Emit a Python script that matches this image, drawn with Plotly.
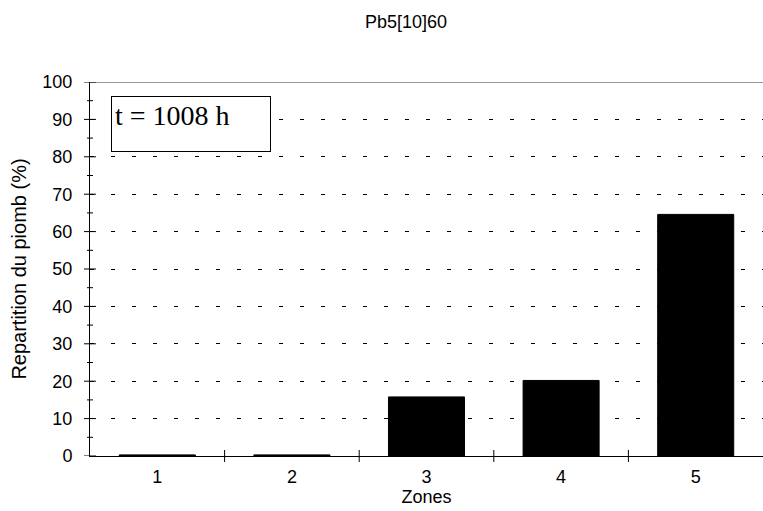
import plotly.graph_objects as go

zones = [1, 2, 3, 4, 5]
zone_labels = ["1", "2", "3", "4", "5"]
repartition = [0.3, 0.3, 15.8, 20.2, 64.6]
y_ticks = [0, 10, 20, 30, 40, 50, 60, 70, 80, 90, 100]
y_minor = [5, 15, 25, 35, 45, 55, 65, 75, 85, 95]
x_bounds = [1.5, 2.5, 3.5, 4.5]

font = "Liberation Sans, Arial, sans-serif"
PLOT_W, PLOT_H = 673, 374

fig = go.Figure()
fig.add_trace(go.Bar(
    x=zones, y=repartition, width=0.565,
    marker=dict(color="black", line=dict(color="black", width=1)),
    showlegend=False,
))

shapes = []
shapes.append(dict(type="line", xref="paper", yref="y", x0=0, x1=1, y0=100, y1=100,
                   line=dict(color="#333", width=1)))
for b in x_bounds:
    shapes.append(dict(type="line", xref="x", yref="paper", x0=b, x1=b,
                       y0=-6 / PLOT_H, y1=6 / PLOT_H, line=dict(color="black", width=1)))
for v in y_ticks:
    shapes.append(dict(type="line", xref="paper", yref="y", x0=-6 / PLOT_W, x1=6 / PLOT_W,
                       y0=v, y1=v, line=dict(color="black", width=1)))
for v in y_minor:
    shapes.append(dict(type="line", xref="paper", yref="y", x0=-3 / PLOT_W, x1=3 / PLOT_W,
                       y0=v, y1=v, line=dict(color="black", width=1)))

fig.update_layout(
    width=763, height=511,
    margin=dict(l=90, r=0, t=82, b=55, autoexpand=False),
    paper_bgcolor="white", plot_bgcolor="white",
    title=dict(text="Pb5[10]60", xref="container", x=0.532, xanchor="center",
               yref="container", y=0.957, yanchor="middle",
               font=dict(family=font, size=18, color="black")),
    xaxis=dict(range=[0.5, 5.5], tickvals=zones, ticktext=zone_labels, ticks="",
               showgrid=False, zeroline=False, showline=True, linecolor="black", linewidth=1,
               automargin=False,
               tickfont=dict(family=font, size=18, color="black"), ticklabelstandoff=4,
               title=dict(text="Zones", font=dict(family=font, size=18, color="black"), standoff=0)),
    yaxis=dict(range=[0, 100], tickvals=y_ticks, ticks="", showline=True, linecolor="black",
               linewidth=1, zeroline=False, showgrid=True, gridcolor="black", gridwidth=1,
               griddash="4px,17px", automargin=False,
               tickfont=dict(family=font, size=18, color="black"), ticklabelstandoff=13,
               title=dict(text="Repartition du piomb (%)",
                          font=dict(family=font, size=20, color="black"), standoff=10)),
    shapes=shapes,
    annotations=[dict(
        text="t = 1008 h", xref="paper", yref="y", x=0.031, y=96.3, xanchor="left", yanchor="top",
        showarrow=False, align="left", valign="top", width=152, height=48,
        bordercolor="black", borderwidth=1, borderpad=3, bgcolor="white",
        font=dict(family="Liberation Serif, Times New Roman, serif", size=28, color="black"),
    )],
)

fig.write_html("out.html", config={"displayModeBar": False},
               post_script="document.body.style.margin='0';document.body.style.overflow='hidden';")
